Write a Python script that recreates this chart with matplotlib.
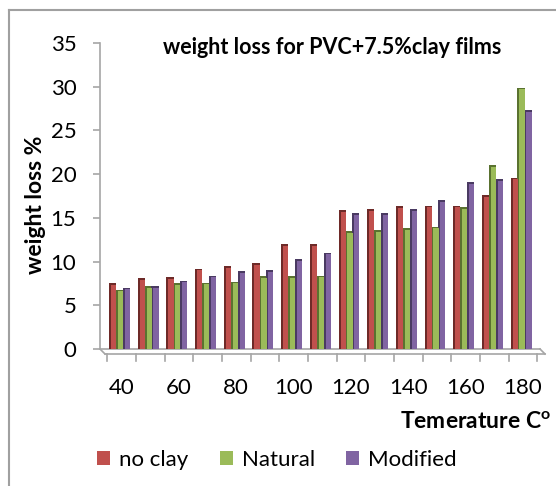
import matplotlib
matplotlib.use("Agg")
import matplotlib.pyplot as plt
from matplotlib.patches import Patch
from matplotlib.lines import Line2D
import matplotlib.transforms as mtransforms

# ---- data ----
temperatures = [40, 50, 60, 70, 80, 90, 100, 110, 120, 130, 140, 150, 160, 170, 180]
no_clay  = [7.5, 8.1, 8.2, 9.2, 9.5, 9.8, 12.0, 12.0, 15.9, 16.0, 16.3, 16.4, 16.4, 17.6, 19.6]
natural  = [6.8, 7.2, 7.5, 7.6, 7.7, 8.3, 8.3, 8.4, 13.5, 13.6, 13.8, 14.0, 16.2, 21.0, 29.9]
modified = [7.0, 7.2, 7.8, 8.4, 8.9, 9.0, 10.3, 11.0, 15.5, 15.5, 16.0, 17.0, 19.1, 19.4, 27.3]
series_names = ["no clay", "Natural", "Modified"]
yticks = [0, 5, 10, 15, 20, 25, 30, 35]
title = "weight loss for PVC+7.5%clay films"
ylabel = "weight loss %"
xlabel = "Temerature C$^{\\mathregular{o}}$"

face_colors = ["#C0504D", "#9BBB59", "#8064A2"]
dark_colors = ["#6E2A28", "#5A7230", "#4A3A62"]

W, H = 556, 486
plt.rcParams['font.family'] = ['Lato', 'DejaVu Sans']
fig = plt.figure(figsize=(W / 100, H / 100), dpi=100)

ax = fig.add_axes([100 / W, 1 - 349 / H, 440 / W, 306 / H])
n = len(temperatures)
xs = list(range(1, n + 1))
ax.set_xlim(0.25, 15.59)
ax.set_ylim(0, 35)

bw = 0.25
offsets = [-0.31, -0.07, 0.17]
side = 0.07
for vals, off, fc, dc in zip([no_clay, natural, modified], offsets, face_colors, dark_colors):
    lefts = [x + off - bw / 2 for x in xs]
    ax.bar(lefts, vals, width=bw, align='edge', color=dc, linewidth=0, zorder=3)
    ax.bar([l + side for l in lefts], [v - 0.18 for v in vals], width=bw - side,
           align='edge', color=fc, linewidth=0, zorder=4)

gray = "#A6A6A6"
low = mtransforms.offset_copy(ax.transData, fig=fig, x=5, y=-5, units='dots')
inv = ax.transData.inverted()
ax.plot([0.25, 15.59], [0, 0], color=gray, lw=1.2, clip_on=False, zorder=2)
ax.plot([0.25, 15.59], [0, 0], color=gray, lw=1.2, clip_on=False, zorder=2, transform=low)
for xv in (0.25, 15.59):
    a = inv.transform(ax.transData.transform((xv, 0)))
    b = inv.transform(low.transform((xv, 0)))
    ax.plot([a[0], b[0]], [a[1], b[1]], color=gray, lw=1.2, clip_on=False)
for k in range(n + 1):
    xb = 0.5 + k
    p = low.transform((xb - 5 / 28.68, 0))
    a = inv.transform(p)
    b = inv.transform((p[0], p[1] - 7))
    ax.plot([a[0], b[0]], [a[1], b[1]], color=gray, lw=1.2, clip_on=False)

for s in ["top", "right", "bottom"]:
    ax.spines[s].set_visible(False)
ax.spines["left"].set_color(gray)
ax.spines["left"].set_linewidth(1.2)
ax.set_yticks(yticks)
ax.set_yticklabels([str(v) for v in yticks])
ax.tick_params(axis='y', direction='out', length=5, width=1.2, color=gray,
               labelsize=16, pad=12)
ax.set_xticks(xs[::2])
ax.set_xticklabels([str(t) for t in temperatures[::2]])
ax.tick_params(axis='x', length=0, labelsize=16, pad=21)

fig.text(332 / W, 1 - 47 / H, title, ha='center', va='center', fontsize=15.5, fontweight='bold')
fig.text(36 / W, 1 - 205 / H, ylabel, ha='center', va='center', rotation=90,
         fontsize=16.5, fontweight='bold')
fig.text(551 / W, 1 - 422 / H, xlabel, ha='right', va='center', fontsize=16.5, fontweight='bold')

handles = [Patch(facecolor=c, edgecolor='none') for c in face_colors]
fig.legend(handles, series_names, loc='center', bbox_to_anchor=(277 / W, 1 - 460 / H),
           ncol=3, frameon=False, fontsize=16, handlelength=0.6, handleheight=0.6,
           handletextpad=0.4, columnspacing=1.4)

fig.add_artist(Line2D([9 / W, 9 / W], [0, 1 - 10 / H], transform=fig.transFigure,
                      color="#A0A0A0", lw=1.5))
fig.add_artist(Line2D([9 / W, 1], [1 - 10 / H, 1 - 10 / H], transform=fig.transFigure,
                      color="#A0A0A0", lw=1.5))

fig.savefig("out.png", dpi=100)
